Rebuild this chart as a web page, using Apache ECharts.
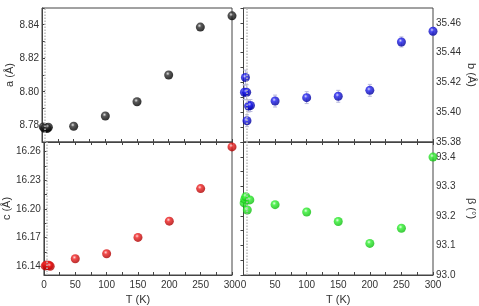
<!DOCTYPE html>
<html>
<head>
<meta charset="utf-8">
<script src="https://cdn.jsdelivr.net/npm/echarts@6/dist/echarts.min.js"></script>
<style>
  html, body { margin: 0; padding: 0; background: #fff; }
  #chart { width: 479px; height: 306px; }
</style>
</head>
<body>
<div id="chart"></div>
<script>
// temperatures (K) and lattice parameters
var tempA = [2, 4, 6, 8, 10, 50, 100, 150, 200, 250, 300];
var valA  = [8.7790, 8.7782, 8.7786, 8.7780, 8.7788, 8.7794, 8.7855, 8.7940, 8.8100, 8.8386, 8.8453];

var tempB = [1.5, 3, 5, 5.5, 8, 11, 50, 100, 150, 200, 250, 300];
var valB  = [35.4134, 35.4233, 35.4134, 35.3943, 35.4041, 35.4045, 35.4075, 35.4098, 35.4107, 35.4147, 35.4472, 35.4544];
var errB  = [0.005, 0.005, 0.005, 0.004, 0.004, 0.004, 0.004, 0.004, 0.004, 0.004, 0.0034, 0.0025];

var tempC = [2, 4, 6, 8, 10, 50, 100, 150, 200, 250, 300];
var valC  = [16.1405, 16.1415, 16.1410, 16.1412, 16.1402, 16.1480, 16.1532, 16.1703, 16.1873, 16.2213, 16.2649];

var tempBeta = [1, 2, 3.6, 6, 10, 50, 100, 150, 200, 250, 300];
var valBeta  = [93.244, 93.256, 93.265, 93.220, 93.254, 93.238, 93.213, 93.181, 93.107, 93.158, 93.399];

// axis ticks / labels
var xLabels = [0, 50, 100, 150, 200, 250, 300];
var xTicks = [0, 25, 50, 75, 100, 125, 150, 175, 200, 225, 250, 275, 300];
var aLabels = [8.78, 8.80, 8.82, 8.84];
var aTicks = [8.77, 8.78, 8.79, 8.80, 8.81, 8.82, 8.83, 8.84, 8.85];
var bLabels = [35.38, 35.40, 35.42, 35.44, 35.46];
var bTicks = [35.38, 35.39, 35.40, 35.41, 35.42, 35.43, 35.44, 35.45, 35.46, 35.47];
var cLabels = [16.14, 16.17, 16.20, 16.23, 16.26];
var cTicks = [16.14, 16.155, 16.17, 16.185, 16.20, 16.215, 16.23, 16.245, 16.26];
var betaLabels = [93.0, 93.1, 93.2, 93.3, 93.4];
var betaTicks = [93.0, 93.05, 93.1, 93.15, 93.2, 93.25, 93.3, 93.35, 93.4, 93.45];
var markT = 5;

var chart = echarts.init(document.getElementById('chart'));
var font = 'Liberation Sans, Arial, sans-serif';
var lineCol = '#444';

function pairs(t, v) {
    return t.map(function (x, i) { return [x, v[i]]; });
}
// shaded sphere look
function ball(light, mid, dark) {
    return {
        type: 'radial', x: 0.4, y: 0.35, r: 0.6,
        colorStops: [{ offset: 0, color: light }, { offset: 0.35, color: mid }, { offset: 1, color: dark }]
    };
}

var grids = [
    { left: 42, top: 8, width: 190, height: 134 },
    { left: 243.5, top: 8, width: 189.5, height: 134 },
    { left: 42, top: 142, width: 190, height: 134 },
    { left: 243.5, top: 142, width: 189.5, height: 134 }
];
grids.forEach(function (g) {
    g.show = true;
    g.borderColor = lineCol;
    g.borderWidth = 1;
    g.containLabel = false;
});

function xAx(gi, withLabels, pos) {
    return {
        type: 'value', gridIndex: gi, min: 0, max: 300, position: pos || 'bottom',
        name: withLabels ? 'T (K)' : '', nameLocation: 'middle', nameGap: 19,
        nameTextStyle: { fontFamily: font, fontSize: 11, color: '#333' },
        axisLine: { show: true, lineStyle: { color: lineCol } },
        axisTick: { show: true, inside: true, length: 3, customValues: xTicks, lineStyle: { color: lineCol } },
        axisLabel: { show: withLabels, customValues: xLabels, fontFamily: font, fontSize: 10, color: '#333', margin: 5 },
        splitLine: { show: false }
    };
}
function yAx(gi, min, max, labels, ticks, digits, name, pos) {
    var right = pos === 'right';
    return {
        type: 'value', gridIndex: gi, min: min, max: max, position: pos,
        name: name, nameLocation: 'middle', nameRotate: right ? -90 : 90, nameGap: right ? 33 : 27,
        nameTextStyle: { fontFamily: font, fontSize: 11, color: '#333' },
        axisLine: { show: true, lineStyle: { color: lineCol } },
        axisTick: { show: true, inside: true, length: 3, customValues: ticks, lineStyle: { color: lineCol } },
        axisLabel: {
            customValues: labels, fontFamily: font, fontSize: 10, color: '#333', margin: 3,
            formatter: function (v) { return v.toFixed(digits); }
        },
        splitLine: { show: false }
    };
}

function scatter(gi, t, v, col, size) {
    return {
        type: 'scatter', xAxisIndex: gi, yAxisIndex: gi, clip: false,
        data: pairs(t, v), symbolSize: size,
        itemStyle: { color: col },
        markLine: {
            silent: true, symbol: 'none', label: { show: false },
            lineStyle: { color: '#bbbbbb', type: 'dotted', width: 1.5 },
            data: [{ xAxis: markT }]
        },
        z: 3
    };
}

var errSeries = {
    type: 'custom', xAxisIndex: 1, yAxisIndex: 1, z: 2,
    data: tempB.map(function (t, i) { return [t, valB[i], errB[i]]; }),
    renderItem: function (params, api) {
        var x = api.value(0), y = api.value(1), e = api.value(2);
        var hi = api.coord([x, y + e]), lo = api.coord([x, y - e]);
        var st = { stroke: '#b8b8dc', lineWidth: 1 };
        return {
            type: 'group', children: [
                { type: 'line', shape: { x1: hi[0], y1: hi[1], x2: lo[0], y2: lo[1] }, style: st },
                { type: 'line', shape: { x1: hi[0] - 2, y1: hi[1], x2: hi[0] + 2, y2: hi[1] }, style: st },
                { type: 'line', shape: { x1: lo[0] - 2, y1: lo[1], x2: lo[0] + 2, y2: lo[1] }, style: st }
            ]
        };
    }
};

chart.setOption({
    animation: false,
    grid: grids,
    xAxis: [
        xAx(0, false), xAx(1, false), xAx(2, true), xAx(3, true),
        xAx(2, false, 'top'), xAx(3, false, 'top')
    ],
    yAxis: [
        yAx(0, 8.77, 8.85, aLabels, aTicks, 2, 'a (Å)', 'left'),
        yAx(1, 35.38, 35.47, bLabels, bTicks, 2, 'b (Å)', 'right'),
        yAx(2, 16.131, 16.27, cLabels, cTicks, 2, 'c (Å)', 'left'),
        yAx(3, 93.0, 93.45, betaLabels, betaTicks, 1, 'β (°)', 'right')
    ],
    series: [
        errSeries,
        scatter(0, tempA, valA, ball('#e0e0e0', '#303030', '#000000'), 9),
        scatter(1, tempB, valB, ball('#d0d0ff', '#2020f0', '#0000a0'), 9),
        scatter(2, tempC, valC, ball('#ffd0d0', '#f02020', '#b00000'), 9),
        scatter(3, tempBeta, valBeta, ball('#e0ffe0', '#30f030', '#10c010'), 9)
    ]
});
</script>
</body>
</html>
